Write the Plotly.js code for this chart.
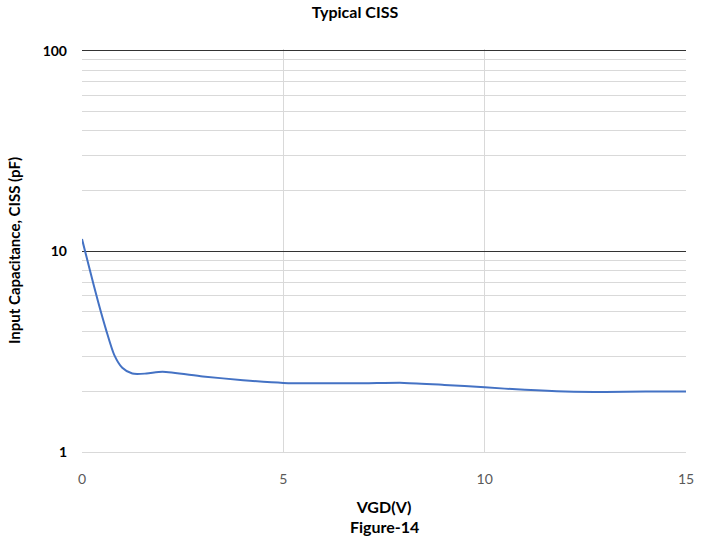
<!DOCTYPE html>
<html>
<head>
<meta charset="utf-8">
<script src="https://cdn.plot.ly/plotly-3.0.1.min.js"></script>
<style>html,body{margin:0;padding:0;background:#fff;}#chart{width:710px;height:544px;}</style>
</head>
<body>
<div id="chart"></div>
<script>
const vgd  = [0, 0.2, 0.4, 0.6, 0.8, 1.0, 1.25, 1.6, 2, 3, 4, 5, 6, 7, 8, 9, 10, 11, 12, 13, 14, 15];
const ciss = [11.5, 8.0, 5.6, 4.05, 3.05, 2.63, 2.46, 2.46, 2.51, 2.38, 2.28, 2.21, 2.20, 2.20, 2.21, 2.16, 2.10, 2.04, 2.00, 1.99, 2.0, 2.0];
const xTicks = [0, 5, 10, 15];
const yTicks = [1, 10, 100];

const font = 'Lato, Open Sans, sans-serif';
Plotly.newPlot('chart', [{
  x: vgd, y: ciss, type: 'scatter', mode: 'lines',
  line: {color: '#4472C4', width: 2, shape: 'spline', smoothing: 0.7},
  hoverinfo: 'none'
}], {
  width: 710, height: 544,
  margin: {l: 82, r: 24, t: 49, b: 92},
  paper_bgcolor: '#fff', plot_bgcolor: '#fff',
  showlegend: false,
  title: {text: '<b>Typical CISS</b>', x: 0.5, xanchor: 'center', y: 0.988, yanchor: 'top',
          font: {family: font, size: 16, color: '#000'}},
  xaxis: {
    range: [0, 15], tickvals: xTicks, ticktext: xTicks.map(String),
    showgrid: true, gridcolor: '#D9D9D9', gridwidth: 1,
    zeroline: false, showline: true, linecolor: '#D9D9D9', linewidth: 1,
    ticks: '', ticklen: 0, ticklabelstandoff: 14,
    tickfont: {family: font, size: 14, color: '#595959'},
    title: {text: '<b>VGD(V)</b>', standoff: 16,
            font: {family: font, size: 16, color: '#000'}}
  },
  yaxis: {
    type: 'log', range: [0, 2.008], tickvals: yTicks, ticktext: yTicks.map(String),
    showgrid: true, gridcolor: '#333333', gridwidth: 1.5,
    minor: {showgrid: true, gridcolor: '#D9D9D9', gridwidth: 1, ticks: '', dtick: 'D1'},
    zeroline: false, showline: false,
    ticks: '', ticklen: 0, ticklabelstandoff: 14,
    tickfont: {family: font, size: 14, color: '#000', weight: 'bold'},
    title: {text: '<b>Input Capacitance, CISS (pF)</b>', standoff: 18,
            font: {family: font, size: 15, color: '#000'}}
  },
  annotations: [{
    text: '<b>Figure-14</b>', xref: 'paper', yref: 'paper', x: 0.5, y: -0.185,
    xanchor: 'center', yanchor: 'middle', showarrow: false,
    font: {family: font, size: 16, color: '#000'}
  }]
}, {staticPlot: true});
</script>
</body>
</html>
